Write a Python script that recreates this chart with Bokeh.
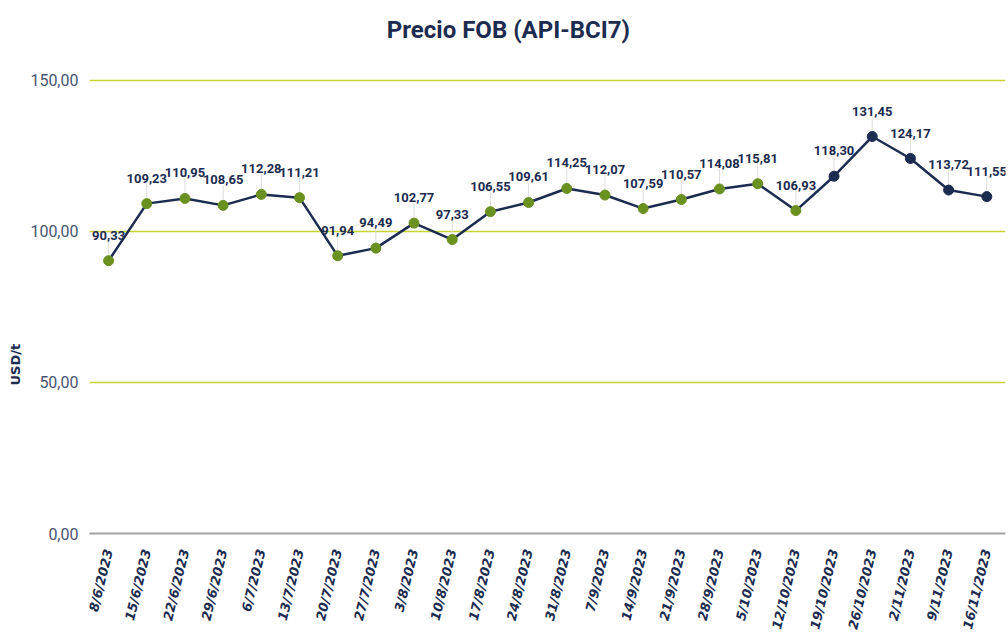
from bokeh.plotting import figure
from bokeh.models import Range1d, FixedTicker, Label, ColumnDataSource, Title
from bokeh.core.properties import value
from bokeh.embed import file_html
from bokeh.resources import INLINE
import math

dates = ["8/6/2023", "15/6/2023", "22/6/2023", "29/6/2023", "6/7/2023", "13/7/2023",
         "20/7/2023", "27/7/2023", "3/8/2023", "10/8/2023", "17/8/2023", "24/8/2023",
         "31/8/2023", "7/9/2023", "14/9/2023", "21/9/2023", "28/9/2023", "5/10/2023",
         "12/10/2023", "19/10/2023", "26/10/2023", "2/11/2023", "9/11/2023", "16/11/2023"]
prices = [90.33, 109.23, 110.95, 108.65, 112.28, 111.21, 91.94, 94.49, 102.77, 97.33,
          106.55, 109.61, 114.25, 112.07, 107.59, 110.57, 114.08, 115.81, 106.93,
          118.30, 131.45, 124.17, 113.72, 111.55]
n_green = 19  # points through 12/10/2023 are green, later ones navy
y_ticks = [0, 50, 100, 150]
y_tick_labels = ["0,00", "50,00", "100,00", "150,00"]

NAVY = "#1c2b50"
GREEN = "#6a9020"
GRID = "#c7d431"

xs = list(range(len(dates)))
colors = [GREEN if i < n_green else NAVY for i in xs]
labels = [f"{v:.2f}".replace(".", ",") for v in prices]

src = ColumnDataSource(dict(x=xs, y=prices, c=colors, t=labels))

# frame spans the full top area so the title can live inside it
p = figure(width=1008, height=644, output_backend="svg", toolbar_location=None,
           x_range=Range1d(-0.5, 23.49), y_range=Range1d(0, 176.49),
           min_border_left=88, min_border_right=3, min_border_top=0, min_border_bottom=111)
p.outline_line_color = None
p.background_fill_color = "white"

# grid
p.xgrid.grid_line_color = None
p.ygrid.grid_line_color = GRID
p.ygrid.grid_line_width = 1.5
p.ygrid.ticker = FixedTicker(ticks=y_ticks[1:])

# y axis
p.yaxis.ticker = FixedTicker(ticks=y_ticks)
p.yaxis.major_label_overrides = {t: l for t, l in zip(y_ticks, y_tick_labels)}
p.yaxis.axis_line_color = None
p.yaxis.major_tick_line_color = None
p.yaxis.minor_tick_line_color = None
p.yaxis.major_label_text_font = "Roboto"
p.yaxis.major_label_text_font_size = "16px"
p.yaxis.major_label_text_color = "#4a5472"
p.yaxis.major_label_standoff = 5

# x axis
p.xaxis.ticker = FixedTicker(ticks=xs)
p.xaxis.major_label_overrides = {i: d for i, d in zip(xs, dates)}
p.xaxis.axis_line_color = "#a3a3a3"
p.xaxis.axis_line_width = 2
p.xaxis.major_tick_line_color = None
p.xaxis.minor_tick_line_color = None
p.xaxis.major_label_orientation = 1.33
p.xaxis.major_label_text_font = "DejaVu Sans"
p.xaxis.major_label_text_font_style = "bold italic"
p.xaxis.major_label_text_font_size = "13px"
p.xaxis.major_label_text_color = NAVY
p.xaxis.major_label_standoff = 10

# leader lines
p.ray(x="x", y="y", source=src, length=20, length_units="screen", angle=math.pi / 2,
      line_color="#dddddd", line_width=1)
# line + markers
p.line(x="x", y="y", source=src, line_color=NAVY, line_width=2.5)
p.scatter(x="x", y="y", source=src, size=10, fill_color="c", line_color="c")
# data labels
p.text(x="x", y="y", text="t", source=src, y_offset=-21, text_align="center",
       text_baseline="bottom", text_font=value("Roboto"), text_font_style="bold",
       text_font_size="13px", text_color=NAVY)

# title (inside the extended frame)
p.add_layout(Label(x=10.47, y=166.56, text="Precio FOB (API-BCI7)", text_align="center",
                   text_baseline="middle", text_font="Roboto", text_font_style="bold",
                   text_font_size="24px", text_color=NAVY))
# y axis label
p.add_layout(Title(text="USD/t", align="left", offset=148, text_font="DejaVu Sans",
                   text_font_style="bold", text_font_size="13px", text_color=NAVY), "left")

open("out.html", "w").write(file_html(p, INLINE))
